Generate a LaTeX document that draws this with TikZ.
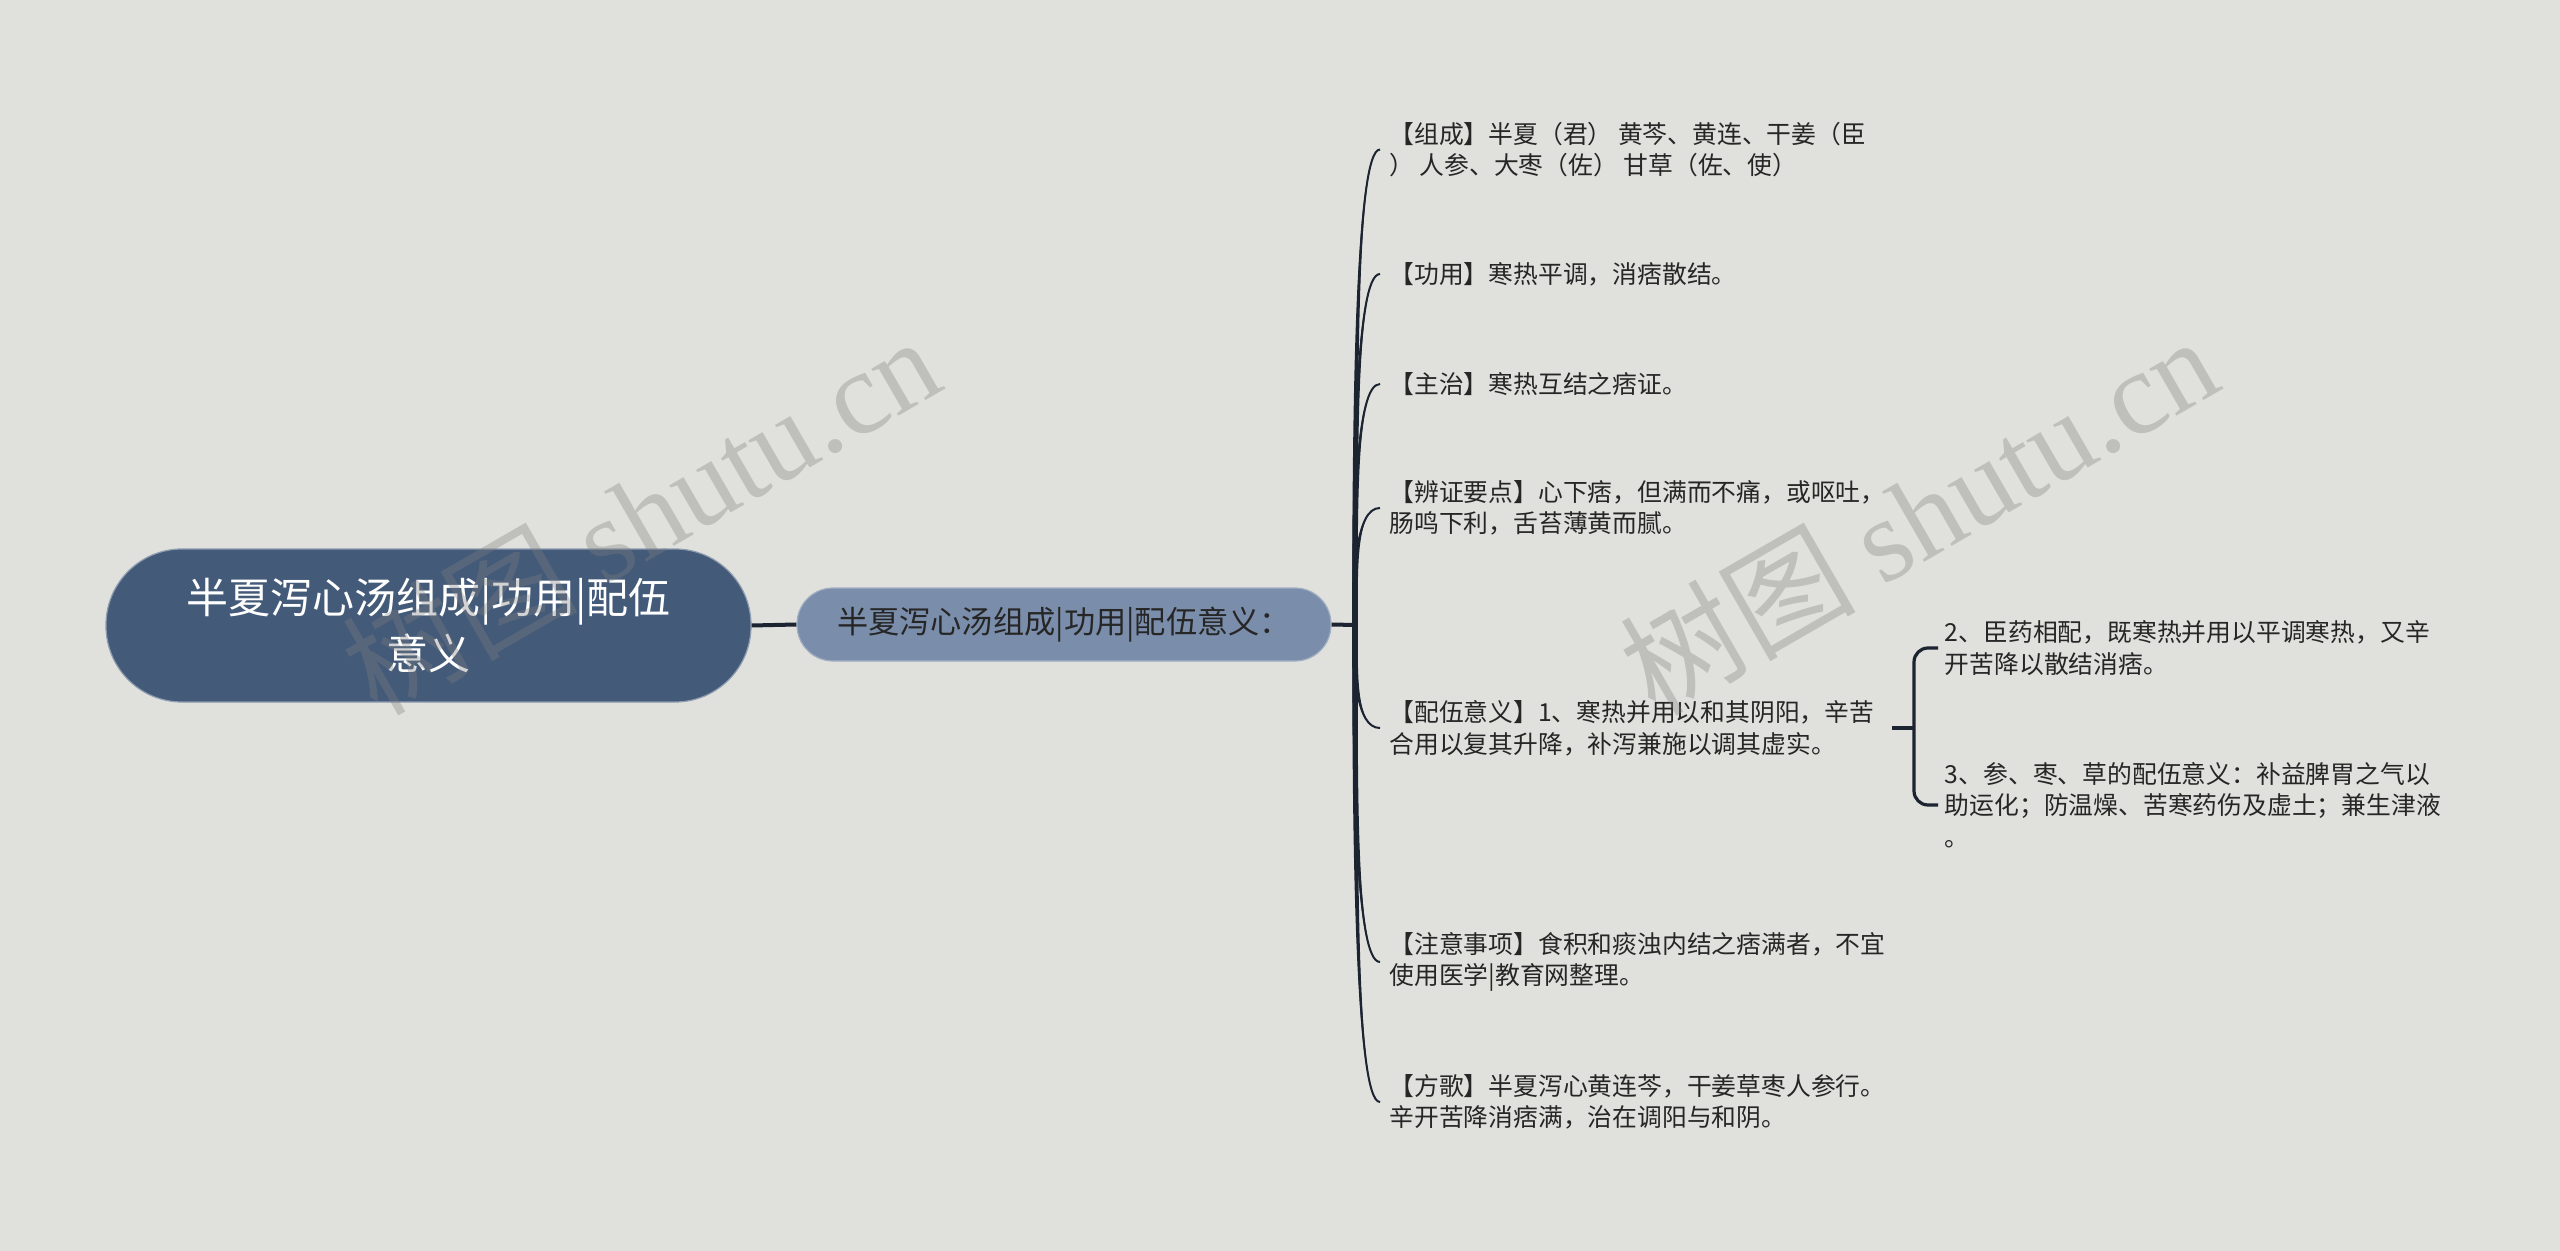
\documentclass[tikz,border=0pt]{standalone}
\usepackage{fontspec}
\setmainfont{Noto Sans CJK SC}
\newfontfamily\wmlatin{Liberation Serif}
\usetikzlibrary{calc}
\definecolor{bgc}{RGB}{224,225,220}
\definecolor{rootc}{RGB}{67,90,121}
\definecolor{subc}{RGB}{122,141,170}
\definecolor{linec}{RGB}{28,36,50}
\definecolor{txtc}{RGB}{38,38,38}
\tikzset{
  rootbox/.style={fill=rootc, draw=rootc!60!white, line width=0.6pt, rounded corners=38pt,
    minimum width=322.5pt, minimum height=76.5pt, align=center, text=white,
    font=\fontsize{21pt}{27.8pt}\selectfont},
  subbox/.style={fill=subc, draw=subc!70!white, line width=0.6pt, rounded corners=18pt,
    minimum width=267pt, minimum height=36.5pt, align=center, text=txtc,
    font=\fontsize{15.6pt}{18pt}\selectfont},
  leaf/.style={anchor=west, inner xsep=4.5pt, inner ysep=0pt, align=left, text=txtc,
    font=\fontsize{12.4pt}{15.8pt}\selectfont},
  leafr/.style={leaf, inner xsep=3.25pt},
  conn/.style={draw=linec, line width=2pt},
  brk/.style={draw=linec, line width=1.6pt, rounded corners=7pt},
  wm/.style={text=black!50, opacity=0.34, font=\fontsize{59pt}{66pt}\selectfont, inner sep=0pt}
}
\newcommand\mmbranch[1]{%
  \fill[linec] let \p1=(sp), \p2=(#1.west), \p3=($(sp)!0.45!(#1.west)$) in
    (\x1-1.4pt,\y1) .. controls (\x1-1.4pt,\y3) and (\x1-0.3pt,\y2) .. (\x2,\y2)
    .. controls (\x1+0.3pt,\y2) and (\x1+1.4pt,\y3) .. (\x1+1.4pt,\y1) -- cycle;
  \draw[linec, line width=1pt] let \p1=(sp), \p2=(#1.west), \p3=($(sp)!0.45!(#1.west)$) in
    (\x1,\y1) .. controls (\x1,\y3) and (\x1,\y2) .. (\x2,\y2);
}
\begin{document}
\begin{tikzpicture}[x=0.5pt,y=-0.5pt]
\fill[bgc] (0,0) rectangle (2560,1251);
\useasboundingbox (0,0) rectangle (2560,1251);

\node[rootbox] (root) at (428.5,625.5) {半夏泻心汤组成|功用|配伍\\意义};
\node[subbox] (sub) at (1064,624.5) {半夏泻心汤组成|功用|配伍意义：};
\coordinate (sp) at (1355,625);

\node[leaf] (c1) at (1380,149.5) {【组成】半夏（君） 黄芩、黄连、干姜（臣\\） 人参、大枣（佐） 甘草（佐、使）};
\node[leaf] (c2) at (1380,274) {【功用】寒热平调，消痞散结。};
\node[leaf] (c3) at (1380,384) {【主治】寒热互结之痞证。};
\node[leaf] (c4) at (1380,508) {【辨证要点】心下痞，但满而不痛，或呕吐，\\肠鸣下利，舌苔薄黄而腻。};
\node[leaf] (c5) at (1380,728) {【配伍意义】1、寒热并用以和其阴阳，辛苦\\合用以复其升降，补泻兼施以调其虚实。};
\node[leaf] (c6) at (1380,962) {【注意事项】食积和痰浊内结之痞满者，不宜\\使用医学|教育网整理。};
\node[leaf] (c7) at (1380,1102) {【方歌】半夏泻心黄连芩，干姜草枣人参行。\\辛开苦降消痞满，治在调阳与和阴。};

\node[leafr] (t2) at (1938,648) {2、臣药相配，既寒热并用以平调寒热，又辛\\开苦降以散结消痞。};
\node[leafr] (t3) at (1938,805) {3、参、枣、草的配伍意义：补益脾胃之气以\\助运化；防温燥、苦寒药伤及虚土；兼生津液\\。};
\coordinate (bk) at (1914,728);

\draw[conn] (root.east) -- (sub.west);
\draw[conn] (sub.east) -- (sp);
\mmbranch{c1}
\mmbranch{c2}
\mmbranch{c3}
\mmbranch{c4}
\mmbranch{c5}
\mmbranch{c6}
\mmbranch{c7}

\draw[conn, line width=1.6pt] ([xshift=4pt]c5.east) -- (bk);
\draw[brk] (t2.west) -- (bk |- t2.west) -- (bk |- t3.west) -- (t3.west);

\node[wm, rotate=30] (wm1) at (640,514) {树图 {\wmlatin shutu.cn}};
\node[wm, rotate=30] (wm2) at (1918,514) {树图 {\wmlatin shutu.cn}};
\end{tikzpicture}
\end{document}
